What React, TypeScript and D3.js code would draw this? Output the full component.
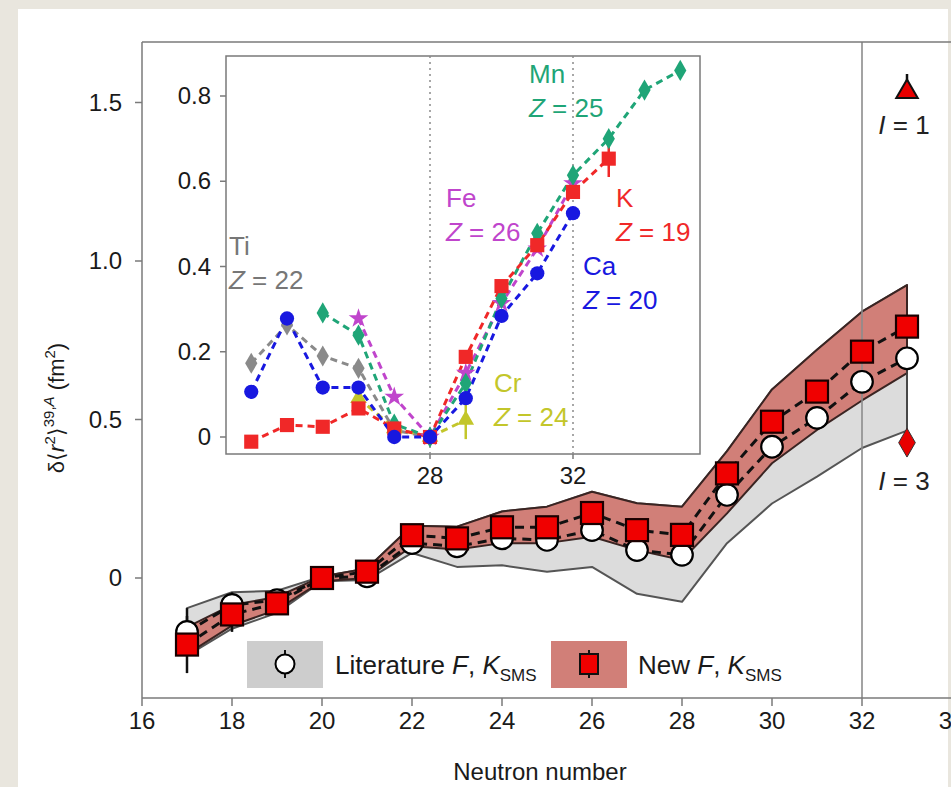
import React from "react";
import * as d3 from "d3";

// Main panel: change in mean-square charge radius of K isotopes vs neutron number
const neutrons = [17, 18, 19, 20, 21, 22, 23, 24, 25, 26, 27, 28, 29, 30, 31, 32, 33];
const newVals = [-0.21, -0.115, -0.08, 0, 0.02, 0.135, 0.125, 0.16, 0.16, 0.205, 0.151, 0.136, 0.33, 0.493, 0.588, 0.714, 0.793];
const newErr = [0.09, 0.055, 0.02, 0.01, 0.01, 0.015, 0.015, 0.015, 0.015, 0.015, 0.015, 0.015, 0.015, 0.015, 0.015, 0.015, 0.015];
const litVals = [-0.17, -0.085, -0.07, 0, 0.005, 0.11, 0.1, 0.125, 0.12, 0.151, 0.088, 0.073, 0.262, 0.414, 0.505, 0.619, 0.693];
const litErr = [0.075, 0.04, 0.02, 0.01, 0.01, 0.015, 0.015, 0.015, 0.015, 0.015, 0.015, 0.015, 0.015, 0.015, 0.015, 0.015, 0.015];
// Systematic bands
const newUpper = [-0.155, -0.085, -0.06, 0.005, 0.03, 0.165, 0.162, 0.21, 0.225, 0.272, 0.236, 0.225, 0.4, 0.595, 0.72, 0.84, 0.924];
const newLower = [-0.24, -0.15, -0.1, -0.01, 0.0, 0.1, 0.09, 0.11, 0.11, 0.13, 0.088, 0.057, 0.204, 0.362, 0.467, 0.56, 0.646];
const litUpper = [-0.095, -0.045, -0.04, 0.005, 0.03, 0.165, 0.162, 0.21, 0.225, 0.272, 0.236, 0.225, 0.4, 0.595, 0.72, 0.84, 0.924];
const litLower = [-0.245, -0.16, -0.11, -0.01, -0.006, 0.079, 0.035, 0.04, 0.02, 0.035, -0.05, -0.075, 0.11, 0.235, 0.32, 0.41, 0.465];
// N = 33 spin assignments
const spinN = 33;
const spinI1 = 1.54;
const spinI1Err = 0.05;
const spinI3 = 0.427;

const xTicks = [16, 18, 20, 22, 24, 26, 28, 30, 32, 34];
const yTicks = [0, 0.5, 1.0, 1.5];

// Inset: isotopic chains around N = 28
const insetXTicks = [28, 32];
const insetYTicks = [0, 0.2, 0.4, 0.6, 0.8];
const tiN = [23, 24, 25, 26, 27, 28];
const tiV = [0.173, 0.263, 0.19, 0.161, 0.016, 0];
const crN = [26, 27, 28, 29];
const crV = [0.091, 0.02, 0, 0.04];
const feN = [26, 27, 28, 29, 30, 31, 32];
const feV = [0.278, 0.094, 0, 0.15, 0.314, 0.442, 0.595];
const mnN = [25, 26, 27, 28, 29, 30, 31, 32, 33, 34, 35];
const mnV = [0.291, 0.239, 0.03, 0, 0.126, 0.325, 0.478, 0.614, 0.7, 0.814, 0.86];
const kN = [23, 24, 25, 26, 27, 28, 29, 30, 31, 32, 33];
const kV = [-0.011, 0.028, 0.024, 0.067, 0.02, 0, 0.188, 0.354, 0.45, 0.575, 0.653];
const caN = [23, 24, 25, 26, 27, 28, 29, 30, 31, 32];
const caV = [0.106, 0.278, 0.116, 0.116, 0, 0, 0.091, 0.284, 0.384, 0.525];

const FONT = "'Liberation Sans', Arial, Helvetica, sans-serif";

export default function App() {
  const W = 951;
  const H = 787;

  const x = d3.scaleLinear().domain([16, 34]).range([142, 952]);
  const y = d3.scaleLinear().domain([0, 1.5]).range([578, 102.5]);
  const plotTop = 42;
  const plotBottom = 698;
  const plotLeft = 142;

  const ix = d3.scaleLinear().domain([28, 32]).range([430, 573]);
  const iy = d3.scaleLinear().domain([0, 0.8]).range([437, 96]);
  const inset = { left: 226, right: 700, top: 56, bottom: 454 };

  const pts = (ns: number[], vs: number[], sx: any, sy: any) =>
    ns.map((n, i) => [sx(n), sy(vs[i])] as [number, number]);
  const line = d3.line();

  const bandPath = (up: number[], lo: number[]) => {
    const top = neutrons.map((n, i) => [x(n), y(up[i])] as [number, number]);
    const bot = neutrons.map((n, i) => [x(n), y(lo[i])] as [number, number]).reverse();
    return line([...top, ...bot]) + "Z";
  };

  const sym = (type: any, size: number) => d3.symbol(type, size)() as string;

  const series = [
    { n: tiN, v: tiV, color: "#8a8a8a", shape: d3.symbolDiamond, size: 130 },
    { n: crN, v: crV, color: "#c3c62a", shape: d3.symbolTriangle, size: 120 },
    { n: feN, v: feV, color: "#c045cc", shape: d3.symbolStar, size: 120 },
    { n: mnN, v: mnV, color: "#1fa577", shape: d3.symbolDiamond, size: 130 },
    { n: kN, v: kV, color: "#f02828", shape: d3.symbolSquare, size: 200 },
    { n: caN, v: caV, color: "#1818e0", shape: d3.symbolCircle, size: 160 },
  ];

  const labels = [
    { t: "Ti", z: "22", x: 229, y: 255, c: "#777777" },
    { t: "Mn", z: "25", x: 529, y: 83, c: "#1fa577" },
    { t: "Fe", z: "26", x: 446, y: 207, c: "#c045cc" },
    { t: "K", z: "19", x: 616, y: 207, c: "#f02828" },
    { t: "Ca", z: "20", x: 583, y: 275, c: "#1818e0" },
    { t: "Cr", z: "24", x: 494, y: 392, c: "#c3c62a" },
  ];

  return (
    <svg width={W} height={H} style={{ display: "block", position: "absolute", left: 0, top: 0 }} fontFamily={FONT}>
      <rect x={0} y={0} width={W} height={H} fill="#e9e6de" />
      <rect x={18} y={9} width={930} height={H - 9} fill="#ffffff" />

      {/* bands */}
      <path d={bandPath(litUpper, litLower)} fill="#dcdcdc" stroke="#555" strokeWidth={2} strokeLinejoin="round" />
      <path d={bandPath(newUpper, newLower)} fill="#d17f78" stroke="#3a2422" strokeWidth={2} strokeLinejoin="round" />

      {/* N = 32 reference line */}
      <line x1={x(32)} x2={x(32)} y1={plotTop} y2={plotBottom} stroke="#8c8c8c" strokeOpacity={0.8} strokeWidth={2} />

      {/* link from N=33 literature point to I=3 marker */}
      <line x1={x(spinN)} x2={x(spinN)} y1={y(litVals[16])} y2={y(spinI3)} stroke="#444" strokeWidth={1.5} />

      {/* dashed connecting lines */}
      <path d={line(pts(neutrons, litVals, x, y)) as string} fill="none" stroke="#111" strokeWidth={3} strokeDasharray="9,6" />
      <path d={line(pts(neutrons, newVals, x, y)) as string} fill="none" stroke="#111" strokeWidth={3} strokeDasharray="9,6" />

      {/* error bars */}
      {neutrons.map((n, i) => (
        <line key={"le" + n} x1={x(n)} x2={x(n)} y1={y(litVals[i] - litErr[i])} y2={y(litVals[i] + litErr[i])} stroke="#111" strokeWidth={2.5} />
      ))}
      {neutrons.map((n, i) => (
        <line key={"ne" + n} x1={x(n)} x2={x(n)} y1={y(newVals[i] - newErr[i])} y2={y(newVals[i] + newErr[i])} stroke="#111" strokeWidth={2.5} />
      ))}

      {/* markers */}
      {neutrons.map((n, i) => (
        <circle key={"lc" + n} cx={x(n)} cy={y(litVals[i])} r={10.8} fill="#fff" stroke="#000" strokeWidth={2.2} />
      ))}
      {neutrons.map((n, i) => (
        <rect key={"ns" + n} x={x(n) - 11} y={y(newVals[i]) - 11} width={22} height={22} fill="#f00000" stroke="#1a0000" strokeWidth={2.2} />
      ))}

      {/* spin markers */}
      <line x1={x(spinN)} x2={x(spinN)} y1={y(spinI1 - 0.02)} y2={y(spinI1 + spinI1Err)} stroke="#111" strokeWidth={2.5} />
      <path d={sym(d3.symbolTriangle, 200)} transform={`translate(${x(spinN)},${y(spinI1) + 2})`} fill="#e80000" stroke="#111" strokeWidth={2} />
      <path d={sym(d3.symbolDiamond, 240)} transform={`translate(${x(spinN)},${y(spinI3)})`} fill="#e80000" stroke="#333" strokeWidth={1} />
      <text x={x(spinN) - 3} y={134} fontSize={26} textAnchor="middle" fill="#222">
        <tspan fontStyle="italic">I</tspan> = 1
      </text>
      <text x={x(spinN) - 3} y={490} fontSize={26} textAnchor="middle" fill="#222">
        <tspan fontStyle="italic">I</tspan> = 3
      </text>

      {/* main frame and axes */}
      <line x1={plotLeft} x2={W} y1={plotTop} y2={plotTop} stroke="#7a7a7a" strokeWidth={1.5} />
      <line x1={plotLeft} x2={plotLeft} y1={plotTop} y2={plotBottom} stroke="#7a7a7a" strokeWidth={1.5} />
      <line x1={plotLeft} x2={W} y1={plotBottom} y2={plotBottom} stroke="#7a7a7a" strokeWidth={1.5} />
      {xTicks.map((t) => (
        <g key={"xt" + t}>
          <line x1={x(t)} x2={x(t)} y1={plotBottom} y2={plotBottom + 8} stroke="#7a7a7a" strokeWidth={1.5} />
          <text x={x(t)} y={plotBottom + 31} fontSize={24} textAnchor="middle" fill="#1a1a1a">{t}</text>
        </g>
      ))}
      {yTicks.map((t) => (
        <g key={"yt" + t}>
          <line x1={plotLeft - 7} x2={plotLeft} y1={y(t)} y2={y(t)} stroke="#7a7a7a" strokeWidth={1.5} />
          <text x={plotLeft - 20} y={y(t) + 8} fontSize={24} textAnchor="end" fill="#1a1a1a">{t === 0 ? "0" : t.toFixed(1)}</text>
        </g>
      ))}
      <text x={540} y={780} fontSize={24} textAnchor="middle" fill="#1a1a1a">Neutron number</text>
      <text transform="rotate(-90)" x={-408} y={64} fontSize={22} textAnchor="middle" fill="#1a1a1a">
        <tspan>δ⟨</tspan>
        <tspan fontStyle="italic">r</tspan>
        <tspan dy={-9} fontSize={15}>2</tspan>
        <tspan dy={9}>⟩</tspan>
        <tspan dy={-10} fontSize={15}>39,</tspan>
        <tspan fontSize={15} fontStyle="italic">A</tspan>
        <tspan dy={10}> (fm</tspan>
        <tspan dy={-9} fontSize={15}>2</tspan>
        <tspan dy={9}>)</tspan>
      </text>

      {/* legend */}
      <rect x={247} y={641} width={76} height={47} fill="#cdcdcd" />
      <line x1={285} x2={285} y1={650} y2={678} stroke="#111" strokeWidth={2} />
      <circle cx={285} cy={664} r={9.5} fill="#fff" stroke="#000" strokeWidth={2} />
      <text x={335} y={674} fontSize={26} fill="#1a1a1a">
        Literature <tspan fontStyle="italic">F</tspan>, <tspan fontStyle="italic">K</tspan>
        <tspan dy={7} fontSize={17}>SMS</tspan>
      </text>
      <rect x={551} y={641} width={76} height={47} fill="#d17f78" />
      <line x1={589} x2={589} y1={650} y2={678} stroke="#111" strokeWidth={2} />
      <rect x={580} y={654} width={18} height={20} fill="#f00000" stroke="#111" strokeWidth={2} />
      <text x={638} y={674} fontSize={26} fill="#1a1a1a">
        New <tspan fontStyle="italic">F</tspan>, <tspan fontStyle="italic">K</tspan>
        <tspan dy={7} fontSize={17}>SMS</tspan>
      </text>

      {/* inset */}
      <rect x={inset.left} y={inset.top} width={inset.right - inset.left} height={inset.bottom - inset.top} fill="#fff" stroke="#7a7a7a" strokeWidth={1.5} />
      {insetXTicks.map((t) => (
        <g key={"ixt" + t}>
          <line x1={ix(t)} x2={ix(t)} y1={inset.top} y2={inset.bottom} stroke="#8a8a8a" strokeWidth={1.5} strokeDasharray="2,4" />
          <line x1={ix(t)} x2={ix(t)} y1={inset.bottom} y2={inset.bottom + 5} stroke="#7a7a7a" strokeWidth={1.5} />
          <text x={ix(t)} y={inset.bottom + 30} fontSize={24} textAnchor="middle" fill="#1a1a1a">{t}</text>
        </g>
      ))}
      {insetYTicks.map((t) => (
        <g key={"iyt" + t}>
          <line x1={inset.left - 6} x2={inset.left} y1={iy(t)} y2={iy(t)} stroke="#7a7a7a" strokeWidth={1.5} />
          <text x={inset.left - 15} y={iy(t) + 8} fontSize={24} textAnchor="end" fill="#1a1a1a">{t === 0 ? "0" : t.toFixed(1)}</text>
        </g>
      ))}
      {series.map((s, si) => (
        <g key={"s" + si}>
          <path d={line(pts(s.n, s.v, ix, iy)) as string} fill="none" stroke={s.color} strokeWidth={3} strokeDasharray="7,5" />
        </g>
      ))}
      {/* inset error bars */}
      <line x1={ix(33)} x2={ix(33)} y1={iy(0.61)} y2={iy(0.685)} stroke="#f02828" strokeWidth={2.5} />
      <line x1={ix(29)} x2={ix(29)} y1={iy(-0.005)} y2={iy(0.085)} stroke="#c3c62a" strokeWidth={2.5} />
      <line x1={ix(23)} x2={ix(23)} y1={iy(0.09)} y2={iy(0.122)} stroke="#1818e0" strokeWidth={2.5} />
      {series.map((s, si) => (
        <g key={"m" + si}>
          {s.n.map((n, i) => (
            <path key={n} d={sym(s.shape, s.size)} transform={`translate(${ix(n)},${iy(s.v[i])})`} fill={s.color} />
          ))}
        </g>
      ))}
      {labels.map((l) => (
        <text key={l.t} fontSize={26} fill={l.c}>
          <tspan x={l.x} y={l.y}>{l.t}</tspan>
          <tspan x={l.x} y={l.y + 34}>
            <tspan fontStyle="italic">Z</tspan> = {l.z}
          </tspan>
        </text>
      ))}
    </svg>
  );
}
